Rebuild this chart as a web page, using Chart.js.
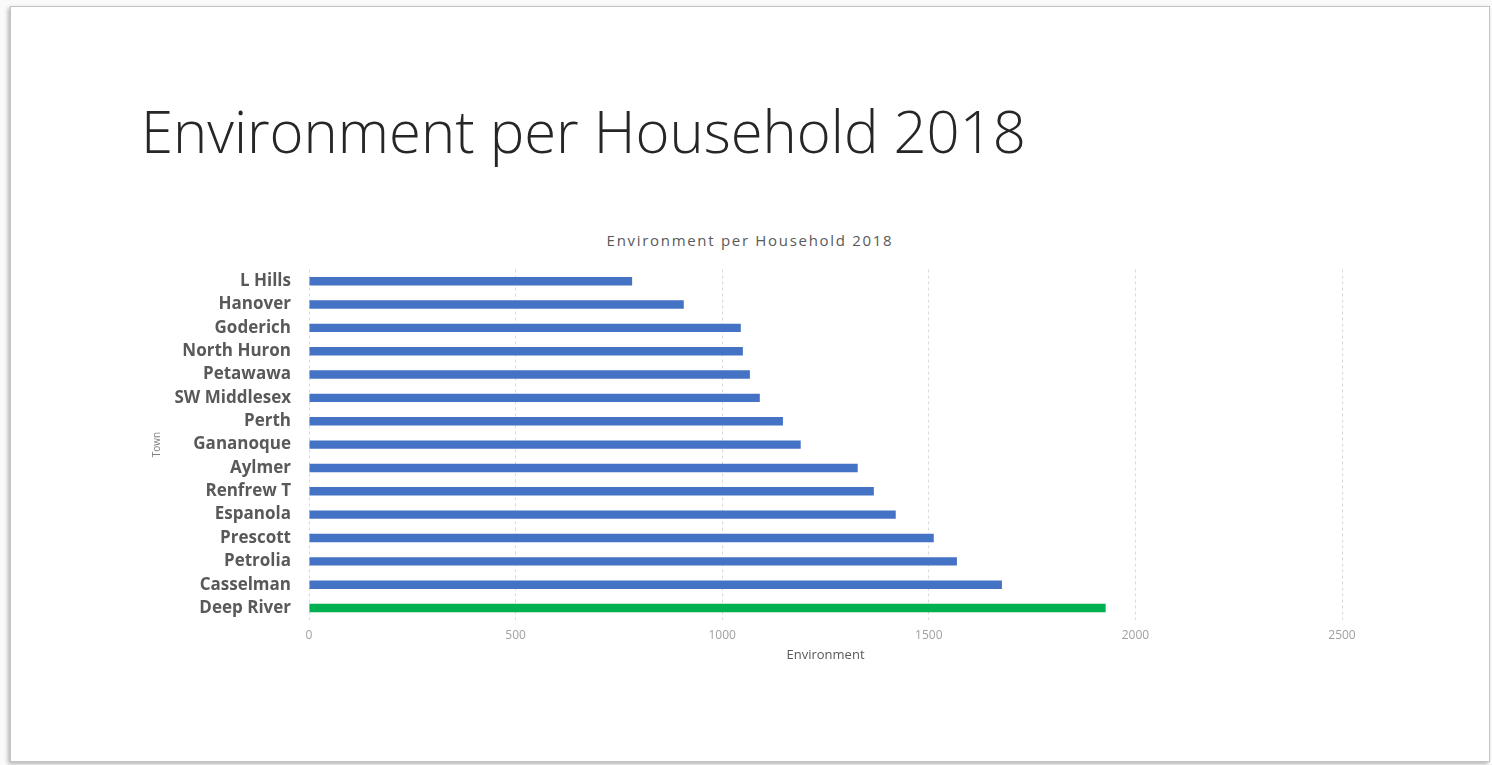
<!DOCTYPE html>
<html>
<head>
<meta charset="utf-8">
<title>Environment per Household 2018</title>
<script src="https://cdn.jsdelivr.net/npm/chart.js@4.4.1/dist/chart.umd.min.js"></script>
<style>
  html, body {
    margin: 0;
    padding: 0;
    background: #fafafa;
    width: 1492px;
    height: 765px;
    overflow: hidden;
  }
  .slide {
    position: absolute;
    left: 10px;
    top: 6px;
    width: 1478px;
    height: 754px;
    background: #fff;
    border: 1px solid #c4c4c4;
    box-shadow: -2px 2px 4px rgba(0, 0, 0, 0.28);
  }
  .headline {
    position: absolute;
    left: 141px;
    top: 102px;
    font: 300 58px/1 "Open Sans", sans-serif;
    color: #262626;
    white-space: nowrap;
  }
  .chart-title {
    position: absolute;
    left: 140px;
    width: 1220px;
    top: 233px;
    text-align: center;
    font: 400 15px/1 "Open Sans", sans-serif;
    letter-spacing: 1.7px;
    color: #595959;
    white-space: nowrap;
  }
  #chart {
    position: absolute;
    left: 140px;
    top: 255px;
  }
</style>
</head>
<body>
<div class="slide"></div>
<div class="headline">Environment per Household 2018</div>
<div class="chart-title">Environment per Household 2018</div>
<canvas id="chart" width="1240" height="420"></canvas>

<script>
// spend on environment per household, by town
const towns = [
  'L Hills',
  'Hanover',
  'Goderich',
  'North Huron',
  'Petawawa',
  'SW Middlesex',
  'Perth',
  'Gananoque',
  'Aylmer',
  'Renfrew T',
  'Espanola',
  'Prescott',
  'Petrolia',
  'Casselman',
  'Deep River',
]
const environment = [
  782, 907, 1045, 1050, 1067, 1091, 1147, 1190,
  1328, 1367, 1420, 1512, 1568, 1677, 1928,
]
const xTicks = [0, 500, 1000, 1500, 2000, 2500]

const highlightTown = 'Deep River'
const blue = '#4472C4'
const green = '#00B050'

const ctx = document.getElementById('chart').getContext('2d')

new Chart(ctx, {
  type: 'bar',
  data: {
    labels: towns,
    datasets: [
      {
        label: 'Environment',
        data: environment,
        backgroundColor: towns.map(t => t === highlightTown ? green : blue),
        borderWidth: 0,
        categoryPercentage: 1,
        barPercentage: 0.36,
      },
    ],
  },
  options: {
    indexAxis: 'y',
    responsive: false,
    animation: false,
    layout: {
      padding: {top: 14.5, right: 38, bottom: 0, left: 0},
    },
    plugins: {
      legend: {display: false},
      title: {display: false},
      tooltip: {enabled: false},
    },
    scales: {
      x: {
        min: xTicks[0],
        max: xTicks[xTicks.length - 1],
        afterBuildTicks: scale => {
          scale.ticks = xTicks.map(v => ({value: v}))
        },
        afterFit: scale => {
          scale.height = 55.3
          scale.paddingLeft = 0
          scale.paddingRight = 0
        },
        grid: {
          color: '#d9d9d9',
          lineWidth: 1,
          drawTicks: false,
        },
        border: {
          display: false,
          dash: [3, 3],
        },
        ticks: {
          padding: 9,
          color: '#a0a0a0',
          font: {family: 'Open Sans', size: 12},
          maxRotation: 0,
          callback: v => String(v),
        },
        title: {
          display: true,
          text: 'Environment',
          color: '#595959',
          font: {family: 'Open Sans', size: 13},
          padding: {top: 0, bottom: 12},
        },
      },
      y: {
        afterFit: scale => {
          scale.width = 169
          scale.paddingTop = 0
          scale.paddingBottom = 0
        },
        grid: {
          display: false,
          drawTicks: false,
        },
        border: {display: false},
        ticks: {
          autoSkip: false,
          padding: 18,
          color: '#595959',
          font: {family: 'Open Sans', size: 17, weight: 'bold'},
        },
        title: {
          display: true,
          text: 'Town',
          color: '#7f7f7f',
          font: {family: 'Open Sans', size: 10},
          padding: {top: 11, bottom: 0},
        },
      },
    },
  },
})
</script>
</body>
</html>
